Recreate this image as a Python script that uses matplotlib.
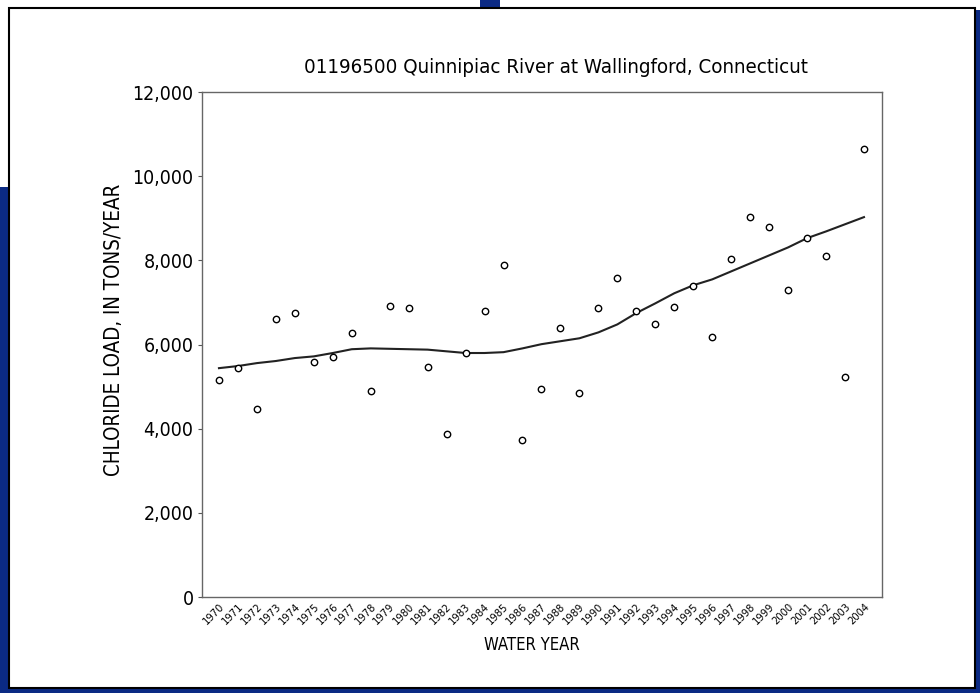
import matplotlib
matplotlib.use('Agg')
import matplotlib.pyplot as plt
from matplotlib.patches import Rectangle

plt.rcParams['font.family'] = ['DejaVu Sans']
plt.rcParams['font.stretch'] = 'condensed'

# water years (tick labels are illegible in the source, assumed 1970-2004)
years = list(range(1970, 2005))
load = [5150, 5440, 4470, 6600, 6750, 5580, 5700, 6270, 4890, 6910,
        6860, 5460, 3870, 5800, 6790, 7890, 3730, 4940, 6390, 4850,
        6860, 7580, 6790, 6480, 6890, 7390, 6180, 8030, 9030, 8790,
        7290, 8530, 8100, 5230, 10640]
trend = [5440, 5490, 5560, 5610, 5680, 5720, 5800, 5890, 5910, 5900,
         5890, 5880, 5840, 5800, 5800, 5820, 5910, 6010, 6080, 6150,
         6290, 6480, 6750, 6980, 7220, 7410, 7550, 7740, 7930, 8120,
         8310, 8530, 8690, 8860, 9030]

fig = plt.figure(figsize=(9.8, 6.93), dpi=100)
fig.patch.set_facecolor('#0b2a84')

# slide windows behind the chart
fig.patches.append(Rectangle((0, 0.73), 0.175, 0.27, transform=fig.transFigure,
                             facecolor='white', edgecolor='none', zorder=0))
fig.patches.append(Rectangle((0, 0.985), 0.49, 0.015, transform=fig.transFigure,
                             facecolor='white', edgecolor='none', zorder=0))
fig.patches.append(Rectangle((0.51, 0.985), 0.49, 0.015, transform=fig.transFigure,
                             facecolor='white', edgecolor='none', zorder=0))
# main chart panel
fig.patches.append(Rectangle((0.009, 0.007), 0.986, 0.982, transform=fig.transFigure,
                             facecolor='white', edgecolor='black', linewidth=1.5, zorder=1))

ax = fig.add_axes([0.206, 0.1385, 0.694, 0.7285])
ax.set_zorder(2)
ax.plot(years, trend, color='#222222', linewidth=1.5)
ax.plot(years, load, 'o', markersize=4.6, markerfacecolor='white',
        markeredgecolor='black', markeredgewidth=1.0)

ax.set_xlim(years[0] - 0.9, years[-1] + 0.95)
ax.set_ylim(0, 12000)
ax.set_yticks(range(0, 12001, 2000))
ax.set_yticklabels(['0', '2,000', '4,000', '6,000', '8,000', '10,000', '12,000'])
ax.set_xticks(years)
ax.set_xticklabels([str(y) for y in years], rotation=45, ha='right',
                   rotation_mode='anchor', fontsize=8)
ax.tick_params(axis='y', labelsize=14, length=3, color='#555555', pad=3)
ax.tick_params(axis='x', length=0, pad=3)
for s in ax.spines.values():
    s.set_color('#666666')
    s.set_linewidth(1.0)

ax.set_title('01196500 Quinnipiac River at Wallingford, Connecticut',
             fontsize=14.7, pad=14, x=0.52)
ax.set_xlabel('WATER YEAR', fontsize=12, labelpad=7, x=0.485)
ax.set_ylabel('CHLORIDE LOAD, IN TONS/YEAR', fontsize=14.8, labelpad=6, y=0.53)

fig.savefig('out.png', dpi=100, facecolor=fig.get_facecolor())
